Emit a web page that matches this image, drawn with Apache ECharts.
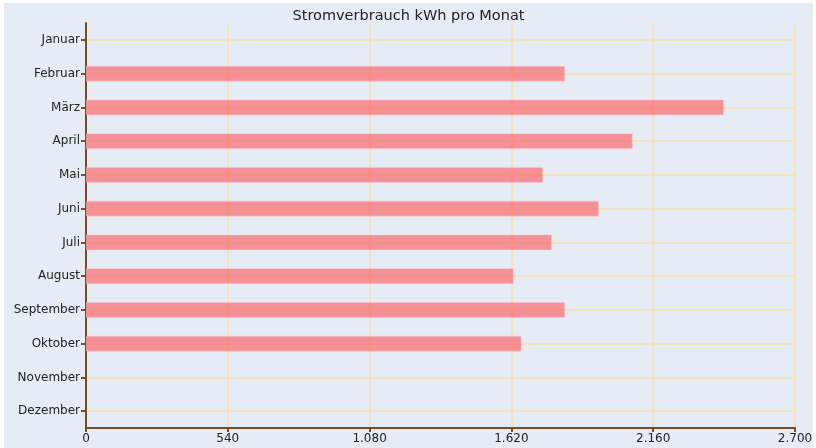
<!DOCTYPE html>
<html>
<head>
<meta charset="utf-8">
<script src="https://cdn.jsdelivr.net/npm/echarts@6/dist/echarts.min.js"></script>
<style>
  html, body { margin: 0; padding: 0; background: #ffffff; }
  #wrap { position: relative; width: 816px; height: 448px; }
  #chart { position: absolute; left: 4px; top: 3px; width: 809px; height: 445px; }
</style>
</head>
<body>
<div id="wrap"><div id="chart"></div></div>
<script>
// Monate (von oben nach unten)
const months = ['Januar', 'Februar', 'März', 'April', 'Mai', 'Juni', 'Juli',
  'August', 'September', 'Oktober', 'November', 'Dezember'];
// Verbrauch in kWh (Januar, November, Dezember ohne Wert)
const consumption = [null, 1825, 2430, 2082, 1741, 1954, 1775, 1629, 1825, 1659, null, null];
const xMax = 2700;
const xStep = 540;

const chart = echarts.init(document.getElementById('chart'));
const axisColor = '#7e4a1f';
const gridColor = '#f3e4bd';

const option = {
  backgroundColor: '#e6ecf6',
  animation: false,
  title: {
    text: 'Stromverbrauch kWh pro Monat',
    left: 'center',
    top: 1,
    textStyle: { fontFamily: 'DejaVu Sans', fontSize: 14.5, fontWeight: 'normal', color: '#222' }
  },
  grid: { left: 82, right: 18, top: 20, bottom: 20, outerBoundsMode: 'none' },
  xAxis: {
    type: 'value',
    min: 0,
    max: xMax,
    interval: xStep,
    axisLine: { show: true, lineStyle: { color: axisColor, width: 2 } },
    axisTick: { show: true, length: 4, lineStyle: { color: axisColor, width: 2 } },
    axisLabel: {
      fontFamily: 'DejaVu Sans', fontSize: 12, color: '#222', margin: 5,
      formatter: v => v.toLocaleString('de-DE')
    },
    splitLine: { show: true, lineStyle: { color: gridColor, width: 2 } }
  },
  yAxis: {
    type: 'category',
    inverse: true,
    data: months,
    axisLine: { show: true, lineStyle: { color: axisColor, width: 2 } },
    axisTick: { show: true, alignWithLabel: true, length: 5, lineStyle: { color: axisColor, width: 2 } },
    axisLabel: { fontFamily: 'DejaVu Sans', fontSize: 12, color: '#222', margin: 6 },
    splitLine: { show: true, alignWithLabel: true, lineStyle: { color: gridColor, width: 2 } }
  },
  series: [{
    type: 'bar',
    data: consumption,
    barWidth: 16,
    itemStyle: {
      color: 'rgba(252, 84, 90, 0.6)',
      borderColor: 'rgba(255, 200, 205, 0.6)',
      borderWidth: 1
    }
  }]
};
chart.setOption(option);
</script>
</body>
</html>
